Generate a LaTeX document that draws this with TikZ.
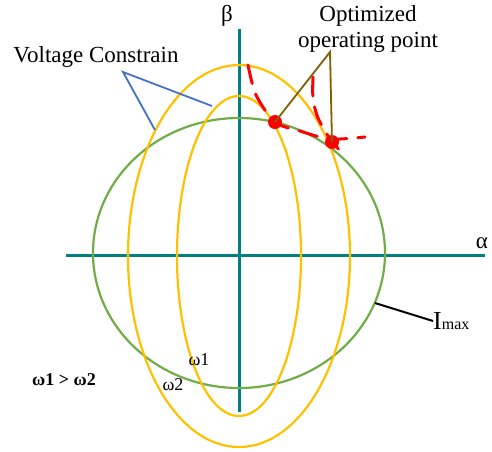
\documentclass[tikz,border=0pt]{standalone}
\usepackage{fontspec}
\setmainfont{Liberation Serif}
\definecolor{axisteal}{RGB}{0,128,128}
\definecolor{imaxgreen}{RGB}{112,173,71}
\definecolor{voltyellow}{RGB}{255,192,0}
\definecolor{leadblue}{RGB}{68,114,196}
\definecolor{leadbrown}{RGB}{127,96,0}
\tikzset{
  axisline/.style={axisteal, line width=3pt},
  voltcurve/.style={voltyellow, line width=2.2pt},
  torque/.style={red, line width=3pt, dash pattern=on 19pt off 11pt, line cap=round},
  bigtxt/.style={inner sep=0pt, font=\fontsize{23}{26}\selectfont},
  smalltxt/.style={inner sep=0pt, font=\fontsize{18}{20}\selectfont}
}
\begin{document}
\begin{tikzpicture}[x=1pt,y=-1pt]
\useasboundingbox (0,0) rectangle (492,451);
% axes
\coordinate (btop) at (239,29);
\coordinate (bbot) at (239,412);
\coordinate (aleft) at (66,255);
\coordinate (aright) at (485,255);
\draw[axisline] (btop) -- (bbot);
\draw[axisline] (aleft) -- (aright);
\node[bigtxt] (beta) at (227,16) {β};
\node[bigtxt] (alpha) at (482,243) {α};
% current limit and voltage ellipses
\draw[imaxgreen, line width=2.2pt] (239,253) ellipse [x radius=146, y radius=135];
\draw[voltcurve] (239,256) ellipse [x radius=111, y radius=191];
\draw[voltcurve] (239,256) ellipse [x radius=62, y radius=160];
% dashed curves
\draw[torque] plot[smooth] coordinates {(248,65) (256,95) (275,122) (300,131) (330,139) (365,137)};
\draw[torque] plot[smooth] coordinates {(313,77) (313,98) (318,118) (332,142) (344,154)};
\coordinate (op1) at (275,122);
\coordinate (op2) at (332,142);
\fill[red] (op1) circle (7);
\fill[red] (op2) circle (7);
% labels and leaders
\node[bigtxt] (volt) at (96,57) {Voltage Constrain};
\coordinate (voltfoot) at (123,72);
\coordinate (voltA) at (212,106);
\coordinate (voltB) at (155,130);
\draw[leadblue, line width=1.8pt] (voltA) -- (voltfoot) -- (voltB);
\node[bigtxt, align=center] (opt) at (368,29) {Optimized\\operating point};
\coordinate (optfoot) at (330,52);
\draw[leadbrown, line width=1.8pt] (op1) -- (optfoot) -- (op2);
\node[inner sep=0pt, anchor=west] (imax) at (433,321) {\fontsize{26}{26}\selectfont I\fontsize{16}{16}\selectfont max};
\coordinate (imaxfoot) at (375,303);
\draw[black, line width=2pt] (imaxfoot) -- (imax.west);
\node[smalltxt] (w1) at (199,360) {ω1};
\node[smalltxt] (w2) at (173,385) {ω2};
\node[smalltxt, font=\fontsize{18}{20}\selectfont\bfseries] (wcmp) at (64,380) {ω1 > ω2};
\end{tikzpicture}
\end{document}
